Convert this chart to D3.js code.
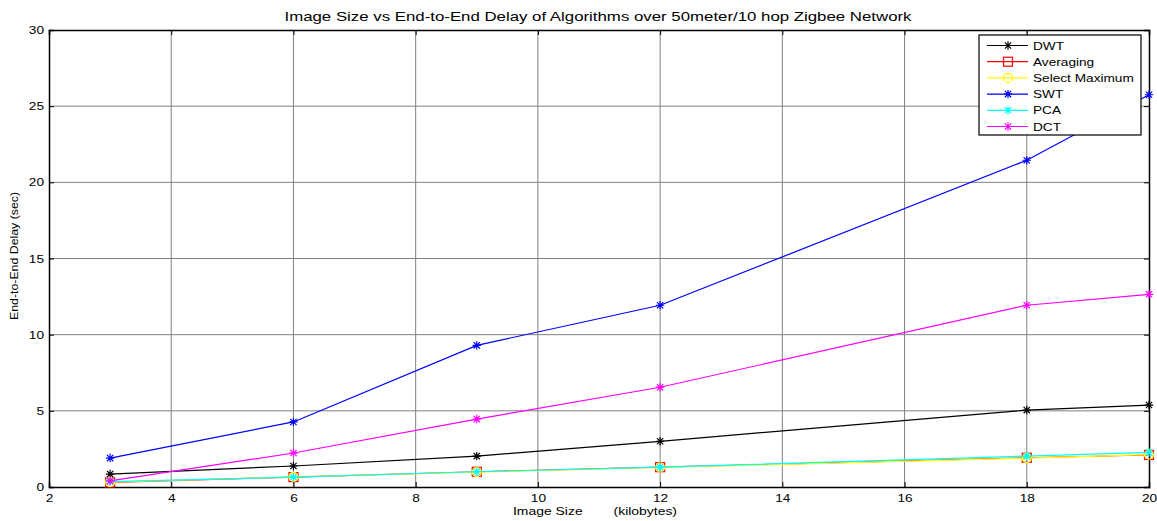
<!DOCTYPE html>
<html>
<head>
<meta charset="utf-8">
<script src="https://cdn.jsdelivr.net/npm/d3@7"></script>
<style>
  body { margin: 0; background: #fff; }
  svg text { font-family: "Liberation Sans", Arial, sans-serif; }
</style>
</head>
<body>
<svg id="chart" width="1157" height="521"></svg>
<script>
// Image size (kilobytes) at which each algorithm was measured
const imageSizes = [3, 6, 9, 12, 18, 20];

// End-to-end delay (sec) per algorithm
const dwt       = [0.85, 1.38, 2.03, 3.0, 5.05, 5.38];
const averaging = [0.3, 0.65, 1.0, 1.3, 1.92, 2.1];
const selectMax = [0.32, 0.66, 0.98, 1.28, 1.9, 2.12];
const swt       = [1.9, 4.27, 9.3, 11.93, 21.45, 25.75];
const pca       = [0.35, 0.65, 1.0, 1.3, 2.03, 2.27];
const dct       = [0.4, 2.23, 4.46, 6.55, 11.93, 12.65];

const seriesNames = ["DWT", "Averaging", "Select Maximum", "SWT", "PCA", "DCT"];
const xTicks = [2, 4, 6, 8, 10, 12, 14, 16, 18, 20];
const yTicks = [0, 5, 10, 15, 20, 25, 30];

const series = [
  { name: seriesNames[0], values: dwt,       color: "#000000", marker: "star" },
  { name: seriesNames[1], values: averaging, color: "#ff0000", marker: "square" },
  { name: seriesNames[2], values: selectMax, color: "#ffff00", marker: "circle" },
  { name: seriesNames[3], values: swt,       color: "#0000ff", marker: "star" },
  { name: seriesNames[4], values: pca,       color: "#00ffff", marker: "star" },
  { name: seriesNames[5], values: dct,       color: "#ff00ff", marker: "star" }
];

const svg = d3.select("#chart");
const plotLeft = 49, plotRight = 1149, plotTop = 30, plotBottom = 487;

const x = d3.scaleLinear().domain([2, 20]).range([plotLeft, plotRight]);
const y = d3.scaleLinear().domain([0, 30]).range([plotBottom, plotTop]);

// widen glyphs horizontally (the figure's lettering is a little extended)
function widen(sel, factor) {
  sel.each(function () {
    const len = this.getComputedTextLength();
    d3.select(this).attr("textLength", len * factor).attr("lengthAdjust", "spacingAndGlyphs");
  });
}

// grid
const grid = svg.append("g").attr("stroke", "#808080").attr("stroke-width", 1);
xTicks.slice(1, -1).forEach(t => {
  grid.append("line").attr("x1", x(t)).attr("x2", x(t)).attr("y1", plotTop).attr("y2", plotBottom);
});
yTicks.slice(1, -1).forEach(t => {
  grid.append("line").attr("x1", plotLeft).attr("x2", plotRight).attr("y1", y(t)).attr("y2", y(t));
});

// axes with inward ticks
const xAxisB = d3.axisBottom(x).tickValues(xTicks).tickSize(-5).tickPadding(7);
const xAxisT = d3.axisTop(x).tickValues(xTicks).tickSize(-5).tickFormat("");
const yAxisL = d3.axisLeft(y).tickValues(yTicks).tickSize(-5).tickPadding(5);
const yAxisR = d3.axisRight(y).tickValues(yTicks).tickSize(-5).tickFormat("");

function styleAxis(g) {
  g.select(".domain").attr("stroke", "#000").attr("stroke-width", 1.5);
  g.selectAll(".tick line").attr("stroke", "#000");
  g.selectAll(".tick text").attr("font-size", 11).attr("fill", "#000")
    .style("font-family", "'Liberation Sans', Arial, sans-serif");
}
const gxB = svg.append("g").attr("transform", `translate(0,${plotBottom})`).call(xAxisB).call(styleAxis);
svg.append("g").attr("transform", `translate(0,${plotTop})`).call(xAxisT).call(styleAxis);
const gyL = svg.append("g").attr("transform", `translate(${plotLeft},0)`).call(yAxisL).call(styleAxis);
svg.append("g").attr("transform", `translate(${plotRight},0)`).call(yAxisR).call(styleAxis);
widen(gxB.selectAll(".tick text"), 1.24);
widen(gyL.selectAll(".tick text"), 1.24);

// marker drawing
function drawMarker(g, type, cx, cy, color) {
  if (type === "star") {
    const r = 4.2, d = r * 0.75;
    g.append("path")
      .attr("d", `M${cx - r},${cy}L${cx + r},${cy}M${cx},${cy - r}L${cx},${cy + r}` +
                 `M${cx - d},${cy - d}L${cx + d},${cy + d}M${cx - d},${cy + d}L${cx + d},${cy - d}`)
      .attr("stroke", color).attr("stroke-width", 1.2).attr("fill", "none");
  } else if (type === "square") {
    g.append("rect").attr("x", cx - 4.5).attr("y", cy - 4.5).attr("width", 9).attr("height", 9)
      .attr("stroke", color).attr("stroke-width", 1.2).attr("fill", "none");
  } else if (type === "circle") {
    g.append("circle").attr("cx", cx).attr("cy", cy).attr("r", 4.5)
      .attr("stroke", color).attr("stroke-width", 1.2).attr("fill", "none");
  }
}

// lines and markers
const line = d3.line().x((d, i) => x(imageSizes[i])).y(d => y(d));
const plot = svg.append("g");
series.forEach(s => {
  plot.append("path").datum(s.values).attr("d", line)
    .attr("fill", "none").attr("stroke", s.color).attr("stroke-width", 1.2);
  const mg = plot.append("g");
  s.values.forEach((v, i) => drawMarker(mg, s.marker, x(imageSizes[i]), y(v), s.color));
});

// title and axis labels
svg.append("text").attr("x", 598).attr("y", 21).attr("text-anchor", "middle")
  .attr("font-size", 13).attr("textLength", 627).attr("lengthAdjust", "spacingAndGlyphs")
  .text("Image Size vs End-to-End Delay of Algorithms over 50meter/10 hop Zigbee Network");
svg.append("text").attr("x", 513).attr("y", 515)
  .attr("font-size", 11).attr("xml:space", "preserve")
  .attr("textLength", 164).attr("lengthAdjust", "spacingAndGlyphs")
  .text("Image Size        (kilobytes)");
const yLabel = svg.append("text").attr("transform", "translate(18,256) rotate(-90)").attr("text-anchor", "middle")
  .attr("font-size", 11).text("End-to-End Delay (sec)");
widen(yLabel, 1.12);

// legend
const lg = svg.append("g");
lg.append("rect").attr("x", 979).attr("y", 35).attr("width", 162).attr("height", 100)
  .attr("fill", "#fff").attr("stroke", "#000").attr("stroke-width", 1.2);
series.forEach((s, i) => {
  const ly = 45.5 + i * 16.2;
  lg.append("line").attr("x1", 987).attr("x2", 1028).attr("y1", ly).attr("y2", ly)
    .attr("stroke", s.color).attr("stroke-width", 1.2);
  drawMarker(lg, s.marker, 1008, ly, s.color);
  const t = lg.append("text").attr("x", 1033).attr("y", ly + 4).attr("font-size", 11).text(s.name);
  widen(t, 1.24);
});
</script>
</body>
</html>
